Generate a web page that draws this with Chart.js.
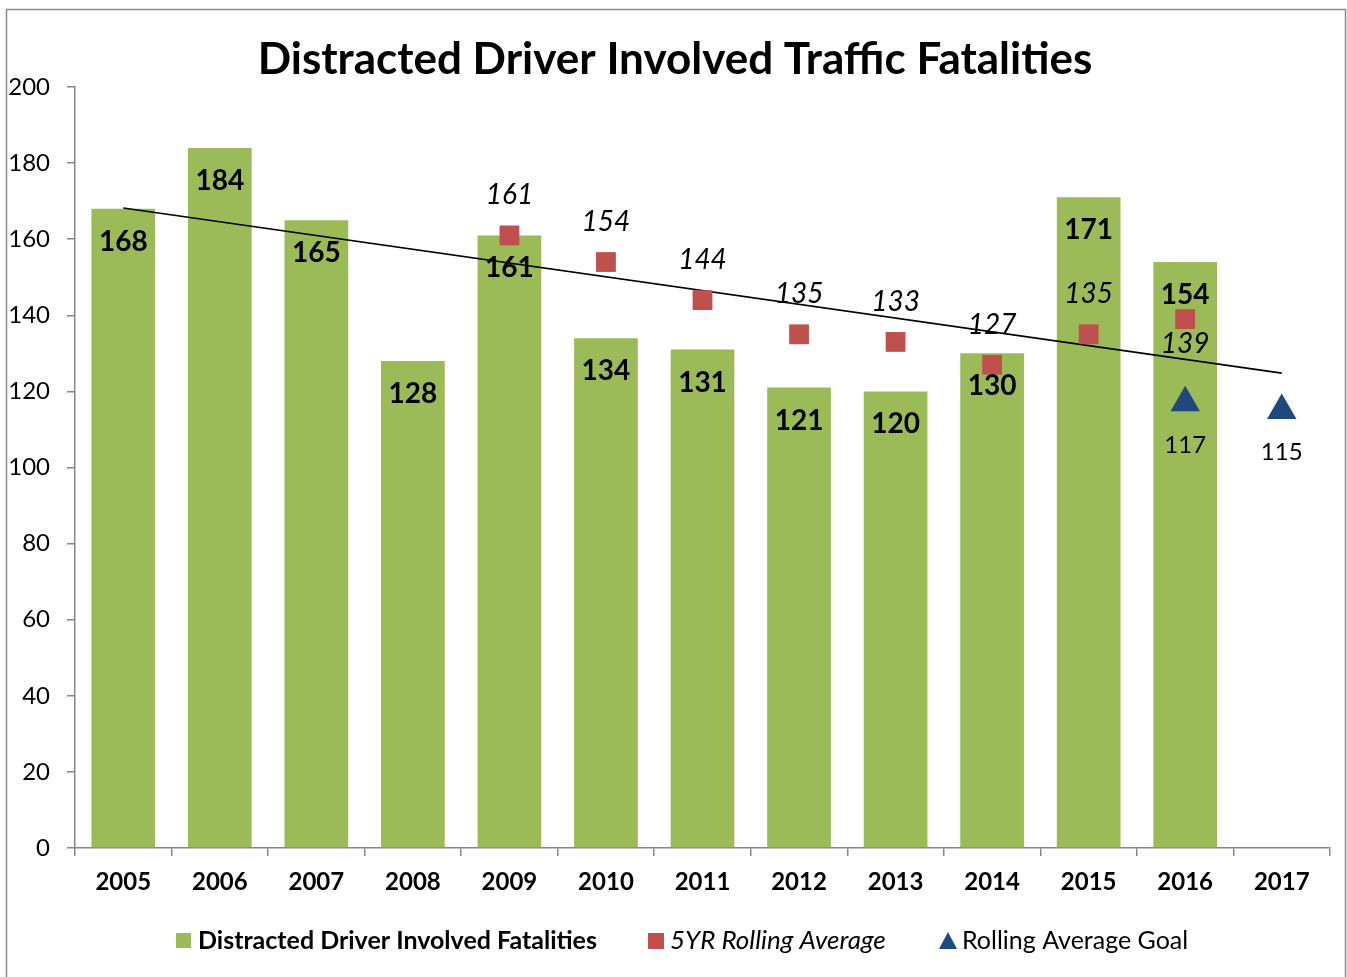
<!DOCTYPE html>
<html>
<head>
<meta charset="utf-8">
<script src="https://cdn.jsdelivr.net/npm/chart.js@4"></script>
<style>
  html, body { margin: 0; padding: 0; background: #fff; }
  #wrap { position: relative; width: 1347px; height: 977px; }
</style>
</head>
<body>
<div id="wrap"><canvas id="fatalChart" width="1347" height="977"></canvas></div>
<script>
const years = ['2005', '2006', '2007', '2008', '2009', '2010', '2011', '2012', '2013', '2014', '2015', '2016', '2017'];
const fatalities = [168, 184, 165, 128, 161, 134, 131, 121, 120, 130, 171, 154, null];
const rollingAvg = [null, null, null, null, 161, 154, 144, 135, 133, 127, 135, 139, null];
const avgGoal = [null, null, null, null, null, null, null, null, null, null, null, 117, 115];
const trendEnds = [168.2, null, null, null, null, null, null, null, null, null, null, null, 124.8];
const yTicks = [0, 20, 40, 60, 80, 100, 120, 140, 160, 180, 200];

const FONT = 'Lato, "Open Sans", sans-serif';
const GREEN = '#9BBB59';
const RED = '#C0504D';
const BLUE = '#1F497D';
const AXIS = '#868686';
const TITLE = 'Distracted Driver Involved Traffic Fatalities';

// draws frame, title, value labels and legend
const extrasPlugin = {
  id: 'extras',
  beforeDraw(chart) {
    const ctx = chart.ctx;
    ctx.save();
    ctx.strokeStyle = '#8c8c8c';
    ctx.lineWidth = 1.5;
    ctx.strokeRect(6.5, 9.5, 1339, 990);
    ctx.fillStyle = '#000';
    ctx.textAlign = 'center';
    ctx.textBaseline = 'middle';
    ctx.font = 'bold 44px ' + FONT;
    ctx.fillText(TITLE, 675, 60);
    ctx.restore();
  },
  afterDatasetsDraw(chart) {
    const ctx = chart.ctx;
    ctx.save();
    ctx.fillStyle = '#000';
    ctx.textAlign = 'center';
    ctx.textBaseline = 'middle';

    chart.getDatasetMeta(0).data.forEach((bar, i) => {
      if (fatalities[i] == null) return;
      ctx.font = 'bold 28px ' + FONT;
      ctx.fillText(fatalities[i], bar.x, bar.y + 33);
    });

    chart.getDatasetMeta(1).data.forEach((pt, i) => {
      if (rollingAvg[i] == null) return;
      ctx.font = 'italic 28px ' + FONT;
      const below = i === 11;
      ctx.fillText(rollingAvg[i], pt.x, below ? pt.y + 25 : pt.y - 40);
    });

    chart.getDatasetMeta(2).data.forEach((pt, i) => {
      if (avgGoal[i] == null) return;
      ctx.font = '24px ' + FONT;
      ctx.fillText(avgGoal[i], pt.x, pt.y + 42);
    });
    ctx.restore();
  },
  afterDraw(chart) {
    const ctx = chart.ctx;
    const y = 941;
    ctx.save();
    ctx.textBaseline = 'middle';
    ctx.textAlign = 'left';

    ctx.fillStyle = GREEN;
    ctx.fillRect(176, y - 8, 15, 15);
    ctx.fillStyle = '#000';
    ctx.font = 'bold 25px ' + FONT;
    ctx.fillText('Distracted Driver Involved Fatalities', 198, y);

    ctx.fillStyle = RED;
    ctx.fillRect(648, y - 8, 16, 16);
    ctx.fillStyle = '#000';
    ctx.font = 'italic 26px ' + FONT;
    ctx.fillText('5YR Rolling Average', 670, y);

    ctx.fillStyle = BLUE;
    ctx.beginPath();
    ctx.moveTo(948, y - 9);
    ctx.lineTo(957, y + 8);
    ctx.lineTo(939, y + 8);
    ctx.closePath();
    ctx.fill();
    ctx.fillStyle = '#000';
    ctx.font = '25px ' + FONT;
    ctx.fillText('Rolling Average Goal', 962, y);
    ctx.restore();
  }
};

const ctx = document.getElementById('fatalChart').getContext('2d');
const fatalChart = new Chart(ctx, {
  type: 'bar',
  data: {
    labels: years,
    datasets: [
      {
        type: 'bar',
        label: 'Distracted Driver Involved Fatalities',
        data: fatalities,
        backgroundColor: GREEN,
        barPercentage: 0.66,
        categoryPercentage: 1,
        order: 3
      },
      {
        type: 'line',
        label: '5YR Rolling Average',
        data: rollingAvg,
        showLine: false,
        pointStyle: 'rect',
        pointRadius: 14,
        pointBackgroundColor: RED,
        pointBorderWidth: 0,
        order: 1
      },
      {
        type: 'line',
        label: 'Rolling Average Goal',
        data: avgGoal,
        showLine: false,
        pointStyle: 'triangle',
        pointRadius: 17,
        pointBackgroundColor: BLUE,
        pointBorderWidth: 0,
        order: 1
      },
      {
        type: 'line',
        label: 'Trend',
        data: trendEnds,
        spanGaps: true,
        borderColor: '#000',
        borderWidth: 1.6,
        pointRadius: 0,
        order: 2
      }
    ]
  },
  options: {
    responsive: false,
    animation: false,
    layout: { padding: { left: 0, right: 10, top: 87, bottom: 70 } },
    plugins: {
      legend: { display: false },
      tooltip: { enabled: false },
      title: { display: false }
    },
    scales: {
      x: {
        offset: true,
        grid: { offset: true, drawOnChartArea: false, drawTicks: true, tickLength: 8, color: AXIS, lineWidth: 1.5 },
        border: { color: AXIS, width: 1.5 },
        ticks: { color: '#000', font: { family: FONT, size: 24, weight: 'bold' }, padding: 12, maxRotation: 0 },
        afterFit(scale) { scale.height = 59; }
      },
      y: {
        min: 0,
        max: 200,
        afterBuildTicks(scale) { scale.ticks = yTicks.map(v => ({ value: v })); },
        grid: { drawOnChartArea: false, drawTicks: true, tickLength: 8, color: AXIS, lineWidth: 1.5 },
        border: { color: AXIS, width: 1.5 },
        ticks: { color: '#000', font: { family: FONT, size: 24 }, padding: 17 },
        afterFit(scale) { scale.width = 75; }
      }
    }
  },
  plugins: [extrasPlugin]
});
</script>
</body>
</html>
